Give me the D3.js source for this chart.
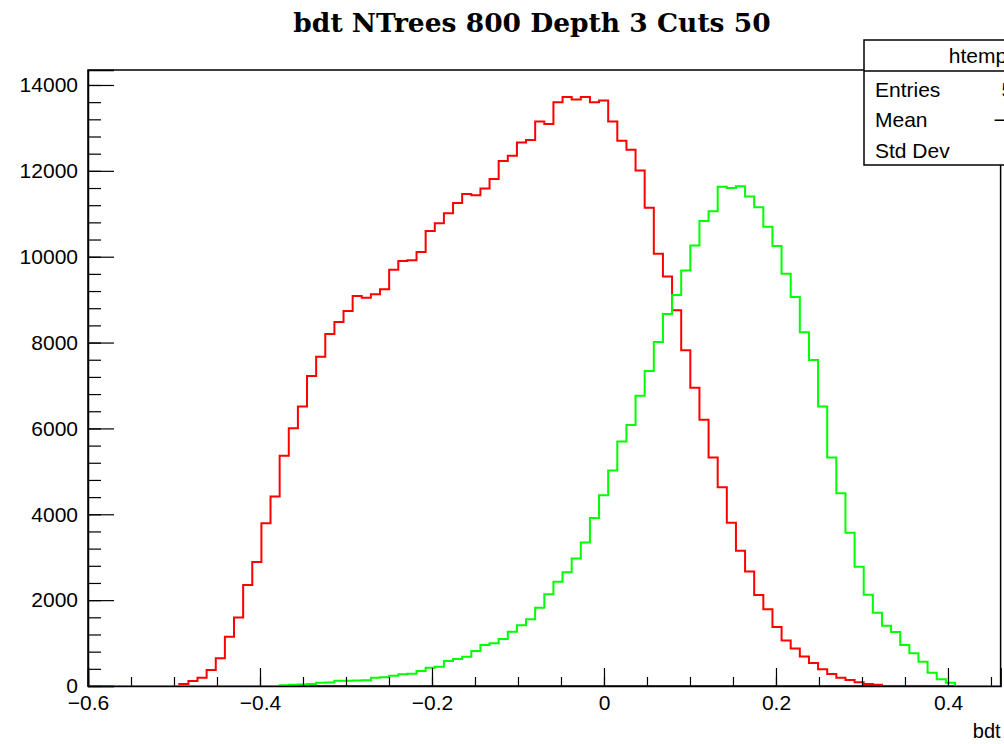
<!DOCTYPE html>
<html><head><meta charset="utf-8">
<script src="https://cdn.jsdelivr.net/npm/d3@7"></script>
<style>html,body{margin:0;padding:0;background:#fff;overflow:hidden}svg{display:block}</style>
</head><body>
<script>
// ---- data ----
const binCount = 100;
const xRange = [-0.6, 0.4612];
const redCounts = [
  0,0,0,0,0,0,0,0,0,0,
  47,117,194,373,645,1150,1593,2354,2890,3792,
  4413,5361,6002,6508,7220,7671,8200,8479,8735,9084,
  9045,9123,9240,9697,9900,9920,10110,10600,10780,11010,
  11250,11460,11430,11590,11810,12230,12350,12660,12720,13150,
  13090,13600,13720,13660,13720,13600,13640,13150,12700,12490,
  12010,11140,10070,9540,8750,7820,6950,6200,5320,4630,
  3800,3150,2670,2120,1790,1375,1060,873,690,535,
  389,280,195,137,86,45,30,0,0,0,
  0,0,0,0,0,0,0,0,0,0
];
const greenCounts = [
  0,0,0,0,0,0,0,0,0,0,
  0,0,0,0,0,0,0,0,0,0,
  0,20,30,35,45,75,80,120,125,130,
  135,195,205,240,275,285,350,427,450,583,
  630,683,815,955,995,1095,1265,1414,1555,1825,
  2137,2430,2650,2970,3340,3915,4445,5017,5695,6080,
  6760,7340,8015,8665,9110,9680,10260,10830,11060,11630,
  11600,11640,11400,11150,10700,10250,9600,9060,8240,7595,
  6510,5320,4490,3570,2780,2127,1707,1405,1258,955,
  762,566,310,156,78,0,0,0,0,0
];
const yMajorTicks = [0,2000,4000,6000,8000,10000,12000,14000];
const xMajorTicks = [-0.6,-0.4,-0.2,0,0.2,0.4];
const xTickLabels = ["\u22120.6","\u22120.4","\u22120.2","0","0.2","0.4"];
const titleText = "bdt NTrees 800 Depth 3 Cuts 50";
const xAxisTitle = "bdt";
const statsTitle = "htemp";
const statsLabels = ["Entries","Mean","Std Dev"];
const statsValues = ["511474","\u22120.1099","0.1609"];

// ---- layout ----
const W = 1004, H = 744;
const frame = {left: 88, right: 1000.6, top: 70, bottom: 686};
const yMax = 14349;
const sansFont = "'Liberation Sans', Arial, sans-serif";

const svg = d3.select("body").append("svg").attr("width", W).attr("height", H);

const x = d3.scaleLinear().domain(xRange).range([frame.left, frame.right]);
const y = d3.scaleLinear().domain([0, yMax]).range([frame.bottom, frame.top]);

// frame
svg.append("rect")
  .attr("x", frame.left).attr("y", frame.top)
  .attr("width", frame.right - frame.left).attr("height", frame.bottom - frame.top)
  .attr("fill", "none").attr("stroke", "#000").attr("stroke-width", 1.5);

// histograms
const binW = (xRange[1] - xRange[0]) / binCount;
function stepPoints(counts) {
  const pts = counts.map((c, i) => [xRange[0] + i * binW, c]);
  pts.push([xRange[1], counts[counts.length - 1]]);
  return pts;
}
const line = d3.line().x(d => x(d[0])).y(d => y(d[1])).curve(d3.curveStepAfter);

svg.append("path").datum(stepPoints(redCounts))
  .attr("d", line).attr("fill", "none").attr("stroke", "#ff0000").attr("stroke-width", 2);
svg.append("path").datum(stepPoints(greenCounts))
  .attr("d", line).attr("fill", "none").attr("stroke", "#00ff00").attr("stroke-width", 2);

// y axis
const yMinor = d3.range(0, yMax, 400);
svg.append("g").attr("transform", `translate(${frame.left},0)`)
  .call(d3.axisLeft(y).tickValues(yMinor).tickSize(-13).tickFormat(""))
  .call(g => g.select(".domain").remove());
const yAx = svg.append("g").attr("transform", `translate(${frame.left},0)`)
  .call(d3.axisLeft(y).tickValues(yMajorTicks).tickSize(-26).tickPadding(10).tickFormat(d3.format("d")));
yAx.select(".domain").attr("stroke-width", 1.5);
yAx.selectAll("text").attr("font-family", sansFont).attr("font-size", 21).attr("fill", "#000");

// x axis
const xMinor = d3.range(-0.6, 0.4612, 0.05).map(v => +v.toFixed(2));
svg.append("g").attr("transform", `translate(0,${frame.bottom})`)
  .call(d3.axisBottom(x).tickValues(xMinor).tickSize(-9).tickFormat(""))
  .call(g => g.select(".domain").remove());
const xAx = svg.append("g").attr("transform", `translate(0,${frame.bottom})`)
  .call(d3.axisBottom(x).tickValues(xMajorTicks).tickSize(-18).tickPadding(9)
        .tickFormat((d, i) => xTickLabels[i]));
xAx.select(".domain").attr("stroke-width", 1.5);
xAx.selectAll("text").attr("font-family", sansFont).attr("font-size", 21).attr("fill", "#000");
svg.selectAll(".tick line").attr("stroke", "#000").attr("stroke-width", 1.2);

// axis title
svg.append("text").attr("x", frame.right).attr("y", 738)
  .attr("text-anchor", "end").attr("font-family", sansFont)
  .attr("font-size", 20).text(xAxisTitle);

// title
svg.append("text").attr("x", 532).attr("y", 32)
  .attr("text-anchor", "middle").attr("font-family", "'DejaVu Serif', serif")
  .attr("font-weight", "bold").attr("font-size", 26.5).text(titleText);

// stats box
const sb = {x: 864, y: 40, w: 228, h: 125, sep: 71};
svg.append("rect").attr("x", sb.x).attr("y", sb.y).attr("width", sb.w).attr("height", sb.h)
  .attr("fill", "#fff").attr("stroke", "#000").attr("stroke-width", 1.5);
svg.append("line").attr("x1", sb.x).attr("x2", sb.x + sb.w).attr("y1", sb.sep).attr("y2", sb.sep)
  .attr("stroke", "#000").attr("stroke-width", 1.5);
svg.append("text").attr("x", sb.x + sb.w / 2).attr("y", 63)
  .attr("text-anchor", "middle").attr("font-family", sansFont)
  .attr("font-size", 21).text(statsTitle);
const rowY = [97, 127, 158];
statsLabels.forEach((t, i) => {
  svg.append("text").attr("x", sb.x + 11).attr("y", rowY[i])
    .attr("font-family", sansFont).attr("font-size", 21).text(t);
  svg.append("text").attr("x", 1070).attr("y", rowY[i]).attr("text-anchor", "end")
    .attr("font-family", sansFont).attr("font-size", 21).text(statsValues[i]);
});
</script>
</body></html>
